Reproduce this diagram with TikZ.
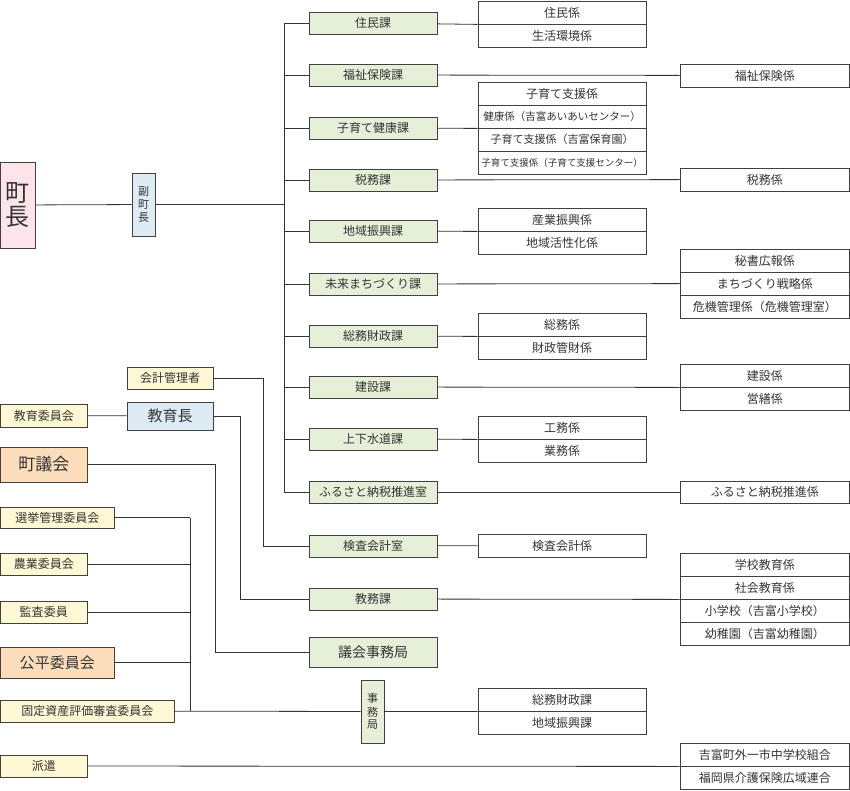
\documentclass[tikz,border=0pt]{standalone}
\usepackage{fontspec}
\setmainfont{Noto Sans CJK JP}
\usetikzlibrary{calc}

\definecolor{kaGreen}{HTML}{E6F0D8}
\definecolor{choPink}{HTML}{FCE4EA}
\definecolor{fukuBlue}{HTML}{DDEBF5}
\definecolor{iinYellow}{HTML}{FFF8D5}
\definecolor{gikaiOrange}{HTML}{FCDDBB}

\tikzset{
  box/.style={draw=black!75, line width=0.8pt, inner sep=0pt, font=\fontsize{12}{14}\selectfont, text=black!80},
  link/.style={draw=black!80, line width=0.8pt}
}

% \bx[options]{name}{x1}{y1}{x2}{y2}{text}
\newcommand{\bx}[7][]{%
  \node[box,#1,minimum width=#5-#3,minimum height=#6-#4] (#2) at ({(#3+#5)/2},{(#4+#6)/2}) {#7};}

\begin{document}
\begin{tikzpicture}[x=1pt,y=-1pt]
\useasboundingbox (0,0) rectangle (850,790);

% top
\bx[fill=choPink,font=\fontsize{24}{26}\selectfont]{cho}{0.5}{162}{35}{248}{\shortstack{町\\長}}
\bx[fill=fukuBlue,font=\fontsize{11}{12}\selectfont]{fuku}{132}{173}{155}{236}{\shortstack{副\\町\\長}}
\coordinate (trunk) at (284,0);

% ka column
\bx[fill=kaGreen]{juminka}{309}{12}{437}{34}{住民課}
\bx[fill=kaGreen]{fukushika}{309}{64}{437}{86}{福祉保険課}
\bx[fill=kaGreen]{kosodateka}{309}{117}{437}{139}{子育て健康課}
\bx[fill=kaGreen]{zeimuka}{309}{169}{437}{191}{税務課}
\bx[fill=kaGreen]{chiikika}{309}{220}{437}{242}{地域振興課}
\bx[fill=kaGreen]{miraika}{309}{273}{437}{295}{未来まちづくり課}
\bx[fill=kaGreen]{somuka}{309}{325}{437}{347}{総務財政課}
\bx[fill=kaGreen]{kensetsuka}{309}{376}{437}{398}{建設課}
\bx[fill=kaGreen]{suidoka}{309}{428}{437}{450}{上下水道課}
\bx[fill=kaGreen]{furusatoka}{309}{481}{437}{503}{ふるさと納税推進室}
\bx[fill=kaGreen]{kensaka}{309}{535}{437}{557}{検査会計室}
\bx[fill=kaGreen]{kyomuka}{309}{588}{437}{610}{教務課}
\bx[fill=kaGreen,font=\fontsize{14}{16}\selectfont]{gikaika}{309}{637}{437}{667}{議会事務局}
\bx[fill=kaGreen,font=\fontsize{11}{12}\selectfont]{jimukyoku}{361}{680}{384}{743}{\shortstack{事\\務\\局}}

% kakari, middle column
\bx{jumin}{478}{1}{646}{24}{住民係}
\bx{seikatsu}{478}{24}{646}{47}{生活環境係}
\bx{kosodate}{478}{82}{646}{105}{子育て支援係}
\bx[font=\fontsize{10.5}{12}\selectfont]{kenko}{478}{105}{646}{128}{健康係（吉富あいあいセンター）}
\bx[font=\fontsize{11}{12}\selectfont]{hoikuen}{478}{128}{646}{151}{子育て支援係（吉富保育園）}
\bx[font=\fontsize{9.5}{11}\selectfont]{shien}{478}{151}{646}{174}{子育て支援係（子育て支援センター）}
\bx{sangyo}{478}{208}{646}{231}{産業振興係}
\bx{kasseika}{478}{231}{646}{254}{地域活性化係}
\bx{somu}{478}{313}{646}{336}{総務係}
\bx{zaisei}{478}{336}{646}{359}{財政管財係}
\bx{komu}{478}{416}{646}{439}{工務係}
\bx{gyomu}{478}{439}{646}{462}{業務係}
\bx{kensa}{478}{534}{646}{557}{検査会計係}
\bx{jsomu}{478}{688}{646}{711}{総務財政課}
\bx{jchiiki}{478}{711}{646}{734}{地域振興課}

% kakari, right column
\bx{fukushi}{680}{64}{849.5}{87}{福祉保険係}
\bx{zeimu}{680}{168}{849.5}{191}{税務係}
\bx{hisho}{680}{249}{849.5}{272}{秘書広報係}
\bx{senryaku}{680}{272}{849.5}{295}{まちづくり戦略係}
\bx{kiki}{680}{295}{849.5}{318}{危機管理係（危機管理室）}
\bx{kensetsu}{680}{364}{849.5}{387}{建設係}
\bx{eizen}{680}{387}{849.5}{410}{営繕係}
\bx{furusato}{680}{481}{849.5}{503}{ふるさと納税推進係}
\bx{gakko}{680}{553}{849.5}{576}{学校教育係}
\bx{shakai}{680}{576}{849.5}{599}{社会教育係}
\bx{shogakko}{680}{599}{849.5}{622}{小学校（吉富小学校）}
\bx{yochien}{680}{622}{849.5}{645}{幼稚園（吉富幼稚園）}
\bx{kumiai}{680}{743}{849.5}{766}{吉富町外一市中学校組合}
\bx{rengo}{680}{766}{849.5}{789}{福岡県介護保険広域連合}

% left side
\bx[fill=iinYellow]{kaikei}{127}{367}{213}{389}{会計管理者}
\bx[fill=fukuBlue,font=\fontsize{15}{17}\selectfont]{kyoikucho}{127}{402}{213}{430}{教育長}
\bx[fill=iinYellow]{kyoikuiin}{0.5}{404}{87}{427}{教育委員会}
\bx[fill=gikaiOrange,font=\fontsize{17}{19}\selectfont]{gikai}{0.5}{447}{87}{482}{町議会}
\bx[fill=iinYellow]{senkyo}{0.5}{507}{114}{528}{選挙管理委員会}
\bx[fill=iinYellow]{nogyo}{0.5}{553}{87}{575}{農業委員会}
\bx[fill=iinYellow]{kansa}{0.5}{601}{87}{623}{監査委員}
\bx[fill=gikaiOrange,font=\fontsize{15}{17}\selectfont]{kohei}{0.5}{647}{114}{678}{公平委員会}
\bx[fill=iinYellow]{kotei}{0.5}{700}{174}{722}{固定資産評価審査委員会}
\bx[fill=iinYellow]{haken}{0.5}{755}{87}{777}{派遣}
\coordinate (bracket) at (190,0);

% connectors
\draw[link] (cho) -- (fuku);
\draw[link] (fuku) -- (trunk |- fuku);
\draw[link] (trunk |- juminka) -- (trunk |- furusatoka);
\foreach \k in {juminka,fukushika,kosodateka,zeimuka,chiikika,miraika,somuka,kensetsuka,suidoka,furusatoka}
  \draw[link] (trunk |- \k) -- (\k);
\draw[link] (juminka) -- (jumin.south west);
\draw[link] (fukushika) -- (fukushi);
\draw[link] (kosodateka) -- (kenko.south west);
\draw[link] (zeimuka) -- (zeimu);
\draw[link] (chiikika) -- (sangyo.south west);
\draw[link] (miraika) -- (senryaku);
\draw[link] (somuka) -- (somu.south west);
\draw[link] (kensetsuka) -- (kensetsu.south west);
\draw[link] (suidoka) -- (komu.south west);
\draw[link] (furusatoka) -- (furusato);
\draw[link] (kensaka) -- (kensa);
\draw[link] (kyomuka) -- (shakai.south west);
\draw[link] (jimukyoku) -- (jsomu.south west);

\draw[link] (kaikei) -| (263,546) -- (kensaka);
\draw[link] (kyoikuiin) -- (kyoikucho);
\draw[link] (kyoikucho) -| (240,599) -- (kyomuka);
\draw[link] (gikai) -| (215,652) -- (gikaika);
\foreach \k in {senkyo,nogyo,kansa,kohei}
  \draw[link] (\k) -- (bracket |- \k);
\draw[link] (bracket |- senkyo) -- (bracket |- kotei);
\draw[link] (kotei) -- (jimukyoku);
\draw[link] (haken) -- (kumiai.south west);
\end{tikzpicture}
\end{document}
